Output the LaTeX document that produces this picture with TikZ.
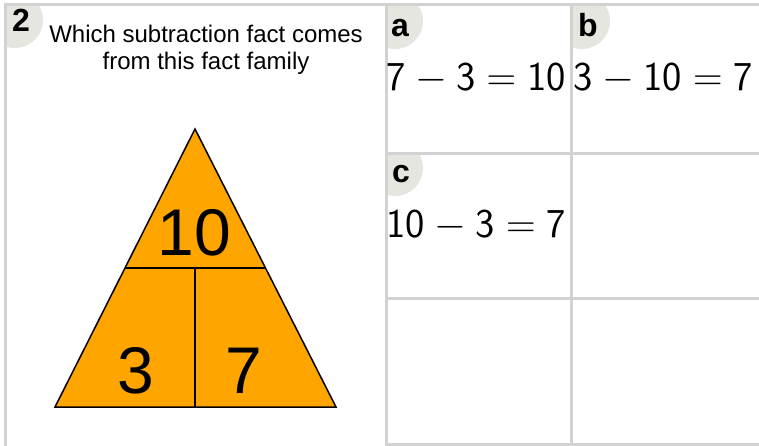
\RequirePackage{fix-cm}
\documentclass[tikz,border=0pt]{standalone}
\usepackage{fontspec}
\usetikzlibrary{calc}
\newfontfamily\arial{Liberation Sans}
\definecolor{gridgrey}{HTML}{D2D2D2}
\definecolor{labelbg}{HTML}{E6E6E0}
\definecolor{famorange}{HTML}{FFA500}
\tikzset{
  gridline/.style={draw=gridgrey, line width=3pt},
  badge/.style={fill=labelbg},
  badgetext/.style={font=\arial\bfseries\fontsize{32}{34}\selectfont, anchor=base, inner sep=0pt},
  eqtext/.style={font=\fontsize{41}{48}\selectfont, anchor=base west, inner sep=0pt},
  qtext/.style={font=\arial\fontsize{24}{27}\selectfont, anchor=base, inner sep=0pt},
  famtri/.style={fill=famorange, draw=black, line width=1.5pt, line join=miter},
  famline/.style={draw=black, line width=1.5pt},
  famnum/.style={font=\arial\fontsize{66}{70}\selectfont, anchor=base, inner sep=0pt}
}
\begin{document}
\begin{tikzpicture}[x=1pt,y=-1pt]
\useasboundingbox (0,0) rectangle (759,446);
\fill[white] (0,0) rectangle (759,446);

% badge circles, clipped to their cells
\begin{scope}
  \clip (5.5,5) rectangle (386,446);
  \fill[badge] (15,20) circle (28pt);
\end{scope}
\begin{scope}
  \clip (386,5) rectangle (571.5,154);
  \fill[badge] (395,21) circle (28pt);
\end{scope}
\begin{scope}
  \clip (571.5,5) rectangle (759,154);
  \fill[badge] (582,21) circle (28pt);
\end{scope}
\begin{scope}
  \clip (386,154) rectangle (571.5,298.5);
  \fill[badge] (395,168) circle (28pt);
\end{scope}

% grid lines
\draw[gridline] (4,5) -- (759,5);
\draw[gridline] (5.5,3.5) -- (5.5,446);
\draw[gridline] (386,5) -- (386,446);
\draw[gridline] (571.5,5) -- (571.5,446);
\draw[gridline] (386,154) -- (759,154);
\draw[gridline] (386,298.5) -- (759,298.5);
\draw[gridline] (386,444.5) -- (759,444.5);

% question
\node[badgetext] (qnum) at (21,32) {2};
\node[qtext] (q1) at (206,43) {Which subtraction fact comes};
\node[qtext] (q2) at (206,70) {from this fact family};

% fact family triangle
\coordinate (apex) at (195,129);
\coordinate (bl) at (55,407);
\coordinate (br) at (336,407);
\path[famtri] (apex) -- (bl) -- (br) -- cycle;
\coordinate (ml) at ($(apex)!0.5!(bl)$);
\coordinate (mr) at ($(apex)!0.5!(br)$);
\coordinate (mb) at (195,407);
\coordinate (mm) at (195,268);
\draw[famline] (ml) -- (mr);
\draw[famline] (mm) -- (mb);
\node[famnum] (whole) at (194.5,255) {10};
\node[famnum] (parta) at (136,393) {3};
\node[famnum] (partb) at (243.5,393) {7};

% options
\node[badgetext] (la) at (400,37) {a};
\node[badgetext] (lb) at (588,37) {b};
\node[badgetext] (lc) at (401,183) {c};
\node[eqtext] (ea) at (386.5,91) {$\mathsf{7}-\mathsf{3}=\mathsf{10}$};
\node[eqtext] (eb) at (573.5,91) {$\mathsf{3}-\mathsf{10}=\mathsf{7}$};
\node[eqtext] (ec) at (386.5,237) {$\mathsf{10}-\mathsf{3}=\mathsf{7}$};
\end{tikzpicture}
\end{document}
